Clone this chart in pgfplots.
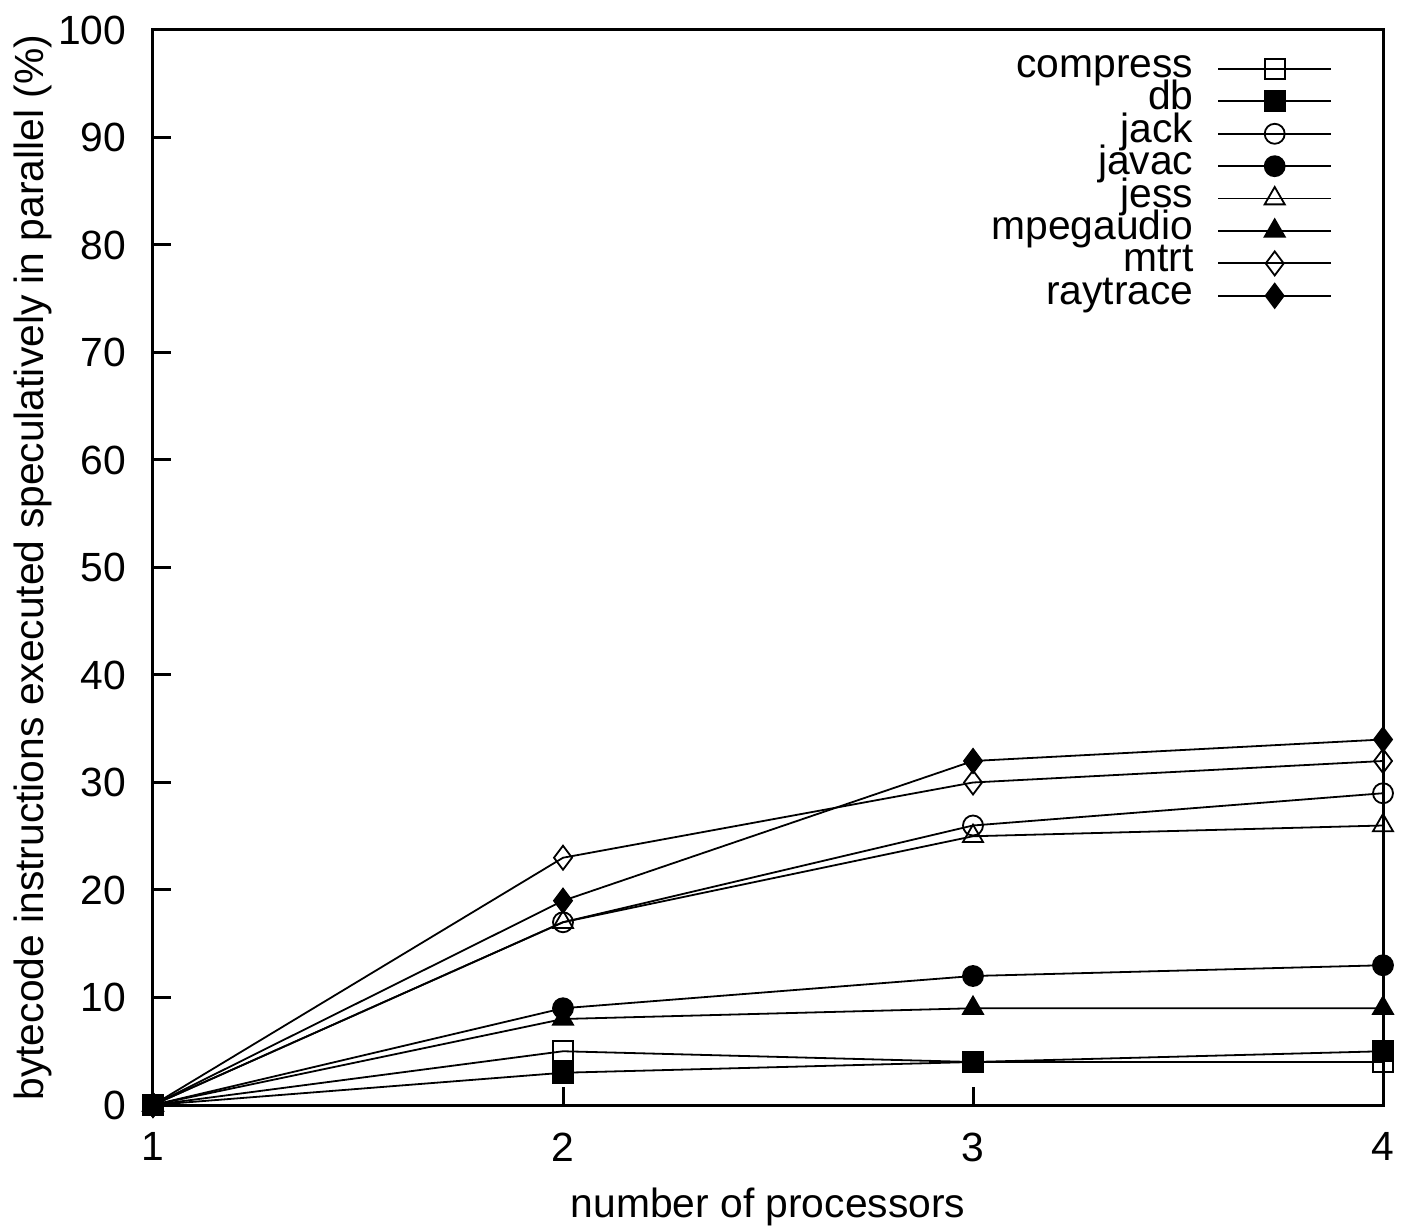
\documentclass[border=0pt]{standalone}
\usepackage{fontspec}
\setmainfont{Liberation Sans}
\usepackage{pgfplots}
\pgfplotsset{compat=1.18}
\begin{document}
\fontsize{10.2}{12.2}\selectfont
\begin{tikzpicture}
\path[use as bounding box] (-38.25pt,-31.25pt) rectangle (312pt,276.25pt);
\begin{axis}[
  scale only axis,
  width=307.5pt, height=268.75pt,
  xmin=1, xmax=4, ymin=0, ymax=100,
  xtick={1,2,3,4}, ytick={0,10,...,100},
  xtick pos=bottom, ytick pos=left,
  /pgf/number format/assume math mode=true,
  tick align=inside, major tick length=4.5pt,
  tick style={line width=0.75pt, black},
  axis line style={line width=0.75pt},
  xticklabel style={anchor=north, inner sep=0pt, yshift=-6.75pt},
  yticklabel style={anchor=east, inner sep=0pt, xshift=-6.5pt},
  ticklabel style={font=\fontsize{10.2}{12.2}\selectfont},
  xlabel={number of processors},
  ylabel={bytecode instructions executed speculatively in parallel (\%)},
  label style={font=\fontsize{10.2}{12.2}\selectfont},
  xlabel style={at={(axis description cs:0.5,-0.1051)}, anchor=base},
  ylabel style={at={(axis description cs:-0.0976,0.5)}, anchor=center},
  legend style={at={(1,1)}, anchor=north east, xshift=-12.5pt, yshift=-5.5pt,
    draw=none, fill=none, inner sep=0pt,
    font=\fontsize{10.2}{10.2}\selectfont,
    nodes={inner ysep=0pt, inner xsep=0pt, text height=6.2pt, text depth=1.9pt},
    /tikz/column sep=6pt},
  legend cell align=right,
  legend plot pos=right,
  legend image code/.code={\draw[mark repeat=2,mark phase=2] plot coordinates {(0pt,0pt)(14.1pt,0pt)(28.25pt,0pt)};},
  every axis plot/.append style={black, solid, line width=0.45pt, mark size=2.5pt, mark options={solid, black, line width=0.45pt}},
]
\addplot[mark=square] coordinates {(1,0)(2,5)(3,4)(4,4)};
\addlegendentry{compress}
\addplot[mark=square*, mark options={fill=black}] coordinates {(1,0)(2,3)(3,4)(4,5)};
\addlegendentry{db}
\addplot[mark=o] coordinates {(1,0)(2,17)(3,26)(4,29)};
\addlegendentry{jack}
\addplot[mark=*, mark options={fill=black}] coordinates {(1,0)(2,9)(3,12)(4,13)};
\addlegendentry{javac}
\addplot[mark=triangle, mark size=2.9pt] coordinates {(1,0)(2,17)(3,25)(4,26)};
\addlegendentry{jess}
\addplot[mark=triangle*, mark size=2.9pt, mark options={fill=black}] coordinates {(1,0)(2,8)(3,9)(4,9)};
\addlegendentry{mpegaudio}
\addplot[mark=diamond, mark size=3pt] coordinates {(1,0)(2,23)(3,30)(4,32)};
\addlegendentry{mtrt}
\addplot[mark=diamond*, mark size=3pt, mark options={fill=black}] coordinates {(1,0)(2,19)(3,32)(4,34)};
\addlegendentry{raytrace}
\end{axis}
\end{tikzpicture}
\end{document}
